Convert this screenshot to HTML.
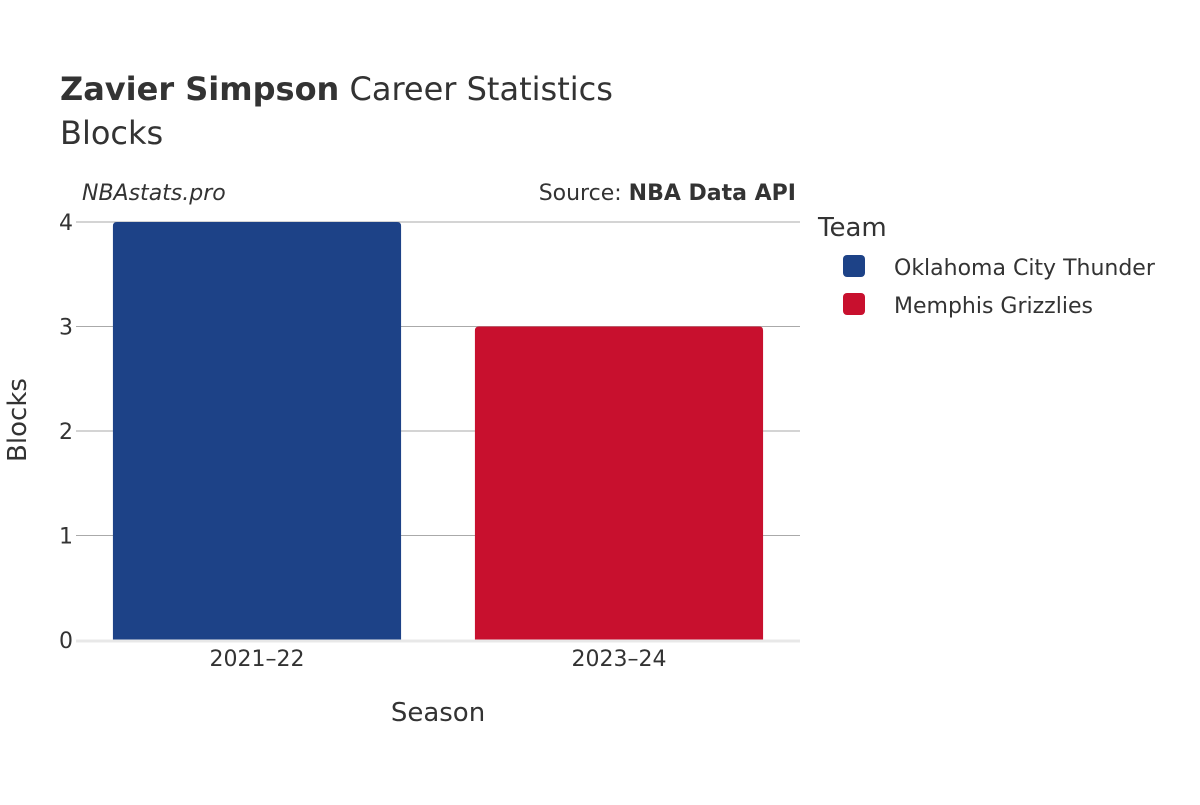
<!DOCTYPE html>
<html><head><meta charset="utf-8"><style>
body{margin:0;background:#fff;}
svg text{font-family:"DejaVu Sans","Liberation Sans",sans-serif;fill:#333;}
</style></head><body>
<svg id="c" width="1200" height="800" xmlns="http://www.w3.org/2000/svg">
<text x="60" y="100" font-size="32"><tspan font-weight="bold">Zavier Simpson</tspan> Career Statistics</text>
<text x="60" y="144" font-size="32">Blocks</text>
<text x="82" y="200" font-size="22" font-style="italic">NBAstats.pro</text>
<text x="796" y="200" font-size="22" text-anchor="end">Source: <tspan font-weight="bold">NBA Data API</tspan></text>
<g id="grid"></g>
<g id="bars"></g>
<g id="xt"></g>
<text x="438" y="721" font-size="26" text-anchor="middle">Season</text>
<text transform="translate(26,420) rotate(-90)" font-size="26" text-anchor="middle">Blocks</text>
<text x="818" y="236" font-size="26">Team</text>
<g id="legend"></g>
</svg>
<script>
const categories=["2021–22","2023–24"];
const values=[4,3];
const teams=["Oklahoma City Thunder","Memphis Grizzlies"];
const colors=["#1d4287","#c8102e"];
const yTicks=[0,1,2,3,4];
const NS="http://www.w3.org/2000/svg";
const x0=76,x1=800,y0=640,yTop=222,yMax=4;
const y=v=>y0-(v/yMax)*(y0-yTop);
const band=(x1-x0)/categories.length;
function mk(t,a,p){const e=document.createElementNS(NS,t);for(const k in a)e.setAttribute(k,a[k]);p.appendChild(e);return e;}
const g=document.getElementById('grid');
yTicks.forEach(t=>{
  if(t>0){const l=mk('line',{x1:x0,x2:x1,y1:y(t),y2:y(t),stroke:'#aaa','stroke-width':1},g);
  
  }
  const tx=mk('text',{x:73,y:y(t)+8,'font-size':22,'text-anchor':'end'},g);
  tx.textContent=t;
  
  
});
const b=document.getElementById('bars');
values.forEach((v,i)=>{
  const bx=x0+band*i+band*0.102,bw=band*0.796;
  const r=mk('path',{d:`M${bx},${y0} V${y(v)+4} Q${bx},${y(v)} ${bx+4},${y(v)} H${bx+bw-4} Q${bx+bw},${y(v)} ${bx+bw},${y(v)+4} V${y0} Z`,fill:colors[i]},b);
  
  
  const tx=mk('text',{x:x0+band*(i+0.5),y:666,'font-size':22,'text-anchor':'middle'},document.getElementById('xt'));
  tx.textContent=categories[i];
  
  
});
const base=mk('line',{x1:x0,x2:x1,y1:y0+1,y2:y0+1,stroke:'#e8e8e8','stroke-width':3},g.parentNode);


const lg=document.getElementById('legend');
teams.forEach((t,i)=>{
  const cy=266+i*38;
  const r=mk('rect',{x:843,y:cy-11,width:22,height:22,rx:4,fill:colors[i]},lg);
  
  
  const tx=mk('text',{x:894,y:cy+9,'font-size':22},lg);
  tx.textContent=t;
  
  
});
</script>
</body></html>
